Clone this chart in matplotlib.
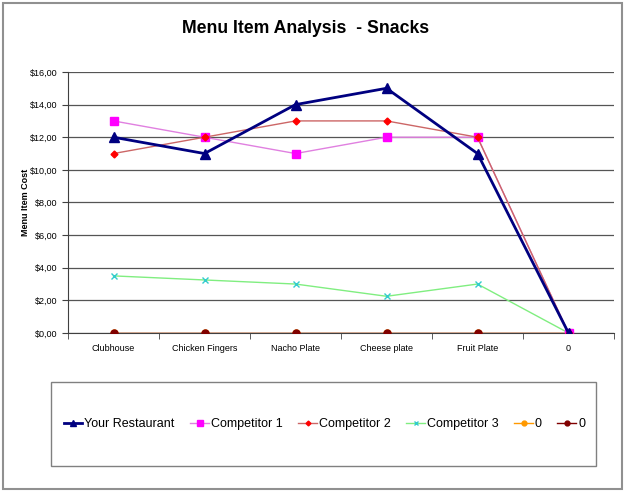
import matplotlib
matplotlib.use("Agg")
import matplotlib.pyplot as plt
from matplotlib.patches import Rectangle
from matplotlib.ticker import FuncFormatter, FixedLocator

plt.rcParams['font.family'] = ['Liberation Sans', 'DejaVu Sans']

categories = ['Clubhouse', 'Chicken Fingers', 'Nacho Plate', 'Cheese plate', 'Fruit Plate', '0']
your_restaurant = [12, 11, 14, 15, 11, 0]
competitor_1 = [13, 12, 11, 12, 12, 0]
competitor_2 = [11, 12, 13, 13, 12, 0]
competitor_3 = [3.5, 3.25, 3.0, 2.25, 3.0, 0]
series_0a = [0, 0, 0, 0, 0, 0]
series_0b = [0, 0, 0, 0, 0, 0]

fig = plt.figure(figsize=(6.25, 4.92), dpi=100)

# outer chart border
fig.patches.append(Rectangle((0.005, 0.007), 0.99, 0.987, transform=fig.transFigure,
                             fill=False, edgecolor='#909090', linewidth=1.5))

ax = fig.add_axes([0.1088, 0.3232, 0.8736, 0.5305])
x = list(range(len(categories)))

l1, = ax.plot(x, your_restaurant, color='#000080', lw=2, marker='^', ms=7,
              mfc='#000080', mec='#000080', label='Your Restaurant', zorder=6)
l2, = ax.plot(x, competitor_1, color='#E080E0', lw=1, marker='s', ms=5.5,
              mfc='#FF00FF', mec='#FF00FF', label='Competitor 1', zorder=4)
l3, = ax.plot(x, competitor_2, color='#CC6666', lw=1, marker='D', ms=3.5,
              mfc='#FF0000', mec='#FF0000', label='Competitor 2', zorder=5)
l4, = ax.plot(x, competitor_3, color='#80EE80', lw=1, marker='x', ms=5,
              mec='#33CCCC', mew=1, label='Competitor 3', zorder=3)
l5, = ax.plot(x, series_0a, color='#FF9900', lw=1, marker='o', ms=5,
              mfc='#FF9900', mec='#FF9900', label='0', zorder=2)
l6, = ax.plot(x, series_0b, color='#800000', lw=1, marker='o', ms=5,
              mfc='#800000', mec='#800000', label='0', zorder=3)

ax.set_xlim(-0.5, len(categories) - 0.5)
ax.set_ylim(0, 16)
ax.set_yticks(range(0, 17, 2))
ax.yaxis.set_major_formatter(FuncFormatter(lambda v, p: '$%d,00' % v))
ax.set_xticks(x)
ax.set_xticklabels(categories)
ax.xaxis.set_minor_locator(FixedLocator([i - 0.5 for i in range(len(categories) + 1)]))
ax.tick_params(axis='x', which='major', length=0, labelsize=6.5, pad=8)
ax.tick_params(axis='x', which='minor', length=4, direction='out', color='#404040')
ax.tick_params(axis='y', length=4, direction='out', labelsize=6.5, color='#404040')
ax.grid(axis='y', color='#555555', linewidth=0.9)
ax.set_axisbelow(True)
for s in ['top', 'right']:
    ax.spines[s].set_visible(False)
ax.spines['left'].set_color('#404040')
ax.spines['bottom'].set_color('#404040')

ax.set_ylabel('Menu Item Cost', fontsize=6.5, fontweight='bold')
ax.yaxis.set_label_coords(-0.07, 0.5)
fig.text(0.489, 0.942, 'Menu Item Analysis  - Snacks', ha='center', va='center',
         fontsize=12.7, fontweight='bold')

# legend box
fig.patches.append(Rectangle((0.0816, 0.0528), 0.872, 0.1707, transform=fig.transFigure,
                             fill=False, edgecolor='#808080', linewidth=1))
fig.legend(handles=[l1, l2, l3, l4, l5, l6], loc='center', bbox_to_anchor=(0.519, 0.138),
           ncol=6, frameon=False, fontsize=9, handlelength=1.5, handletextpad=0.15,
           columnspacing=1.25, markerscale=0.7)

fig.savefig('out.png', dpi=100)
